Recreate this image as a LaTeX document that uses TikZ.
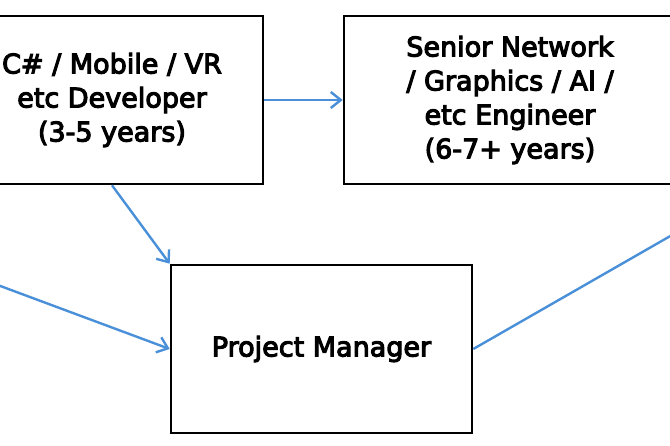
\documentclass[tikz,border=0pt]{standalone}
\usepackage{fontspec}
\setmainfont{DejaVu Sans}[FakeBold=4]
\usetikzlibrary{arrows.meta}
\definecolor{linkblue}{RGB}{74,144,217}
\tikzset{
  role/.style={draw=black, line width=2.6pt, fill=white, align=center, inner sep=0pt,
    font=\fontsize{27}{34}\selectfont},
  link/.style={draw=linkblue, line width=2.4pt},
  arrowlink/.style={link, -{Straight Barb[length=10pt,width=16pt,line width=2.4pt]}}
}
\begin{document}
\begin{tikzpicture}[x=1pt,y=-1pt]
  \useasboundingbox (0,0) rectangle (670,446);
  \node[role, minimum width=302pt, minimum height=168pt] (dev) at (112,100)
    {C\# / Mobile / VR\\etc Developer\\(3-5 years)};
  \node[role, minimum width=332pt, minimum height=168pt] (sen) at (510,100)
    {Senior Network\\/ Graphics / AI /\\etc Engineer\\(6-7+ years)};
  \node[role, minimum width=301pt, minimum height=168pt] (pm) at (321.5,349)
    {Project Manager};
  \coordinate (leftsrc) at (-40,271);
  \coordinate (uprightdst) at (700,219);
  \draw[arrowlink] (dev.east) -- (sen.west);
  \draw[arrowlink] (dev.south) -- (pm.north west);
  \draw[arrowlink] (leftsrc) -- (pm.west);
  \draw[link] (pm.east) -- (uprightdst);
\end{tikzpicture}
\end{document}
